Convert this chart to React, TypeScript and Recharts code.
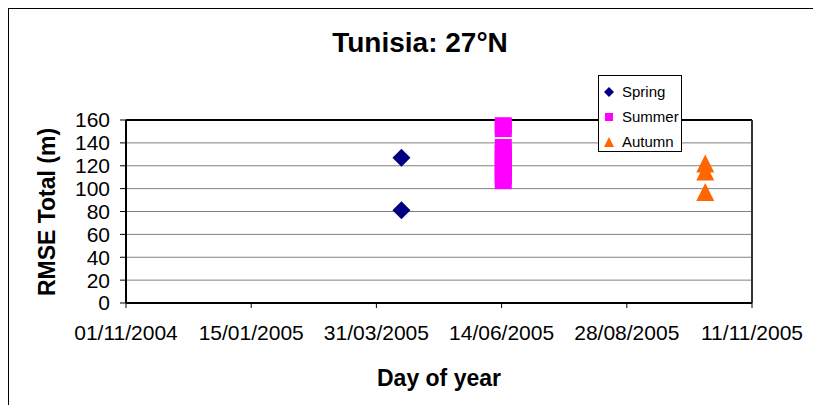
import React from "react";
import { ScatterChart, Scatter, XAxis, YAxis, CartesianGrid, ReferenceLine } from "recharts";

// dates are dd/mm/yyyy in the picture, stored here as ISO
const xTickDates = ["2004-11-01", "2005-01-15", "2005-03-31", "2005-06-14", "2005-08-28", "2005-11-11"];
const yTicks = [0, 20, 40, 60, 80, 100, 120, 140, 160];

const springDate = "2005-04-15";
const springValues = [127, 81];

const summerDate = "2005-06-15";
const summerValues = [155, 152.5, 136, 131, 126, 121, 116, 111, 107];

const autumnDate = "2005-10-14";
const autumnValues = [122, 115, 97];

const FONT = "'Liberation Sans', Arial, sans-serif";

const dayNum = (iso: string) => {
    const [y, m, d] = iso.split("-").map(Number);
    return Date.UTC(y, m - 1, d) / 86400000;
};

const fmtDay = (n: number) => {
    const dt = new Date(n * 86400000);
    const dd = String(dt.getUTCDate()).padStart(2, "0");
    const mm = String(dt.getUTCMonth() + 1).padStart(2, "0");
    return `${dd}/${mm}/${dt.getUTCFullYear()}`;
};

const xTicks = xTickDates.map(dayNum);
const springData = springValues.map(v => ({ t: dayNum(springDate), v }));
const summerData = summerValues.map(v => ({ t: dayNum(summerDate), v }));
const autumnData = autumnValues.map(v => ({ t: dayNum(autumnDate), v }));

const Diamond = (p: any) => {
    const { cx, cy } = p;
    const r = 9;
    return <polygon points={`${cx},${cy - r} ${cx + r},${cy} ${cx},${cy + r} ${cx - r},${cy}`} fill="#000080" />;
};

const Square = (p: any) => {
    const { cx, cy } = p;
    return <rect x={cx - 8.5} y={cy - 8.5} width={17} height={17} fill="#FF00FF" />;
};

const Triangle = (p: any) => {
    const { cx, cy } = p;
    const r = 9;
    return <polygon points={`${cx},${cy - r} ${cx + r},${cy + r} ${cx - r},${cy + r}`} fill="#FF6600" />;
};

const legendItems = [
    { name: "Spring", icon: <polygon points="5,0 10,5 5,10 0,5" fill="#000080" /> },
    { name: "Summer", icon: <rect x={1} y={1} width={8} height={8} fill="#FF00FF" /> },
    { name: "Autumn", icon: <polygon points="5,0 10,10 0,10" fill="#FF6600" /> },
];

export default function App() {
    return (
        <div style={{ position: "relative", width: 804, height: 396, overflow: "hidden", borderLeft: "1px solid #000", borderTop: "1px solid #000", fontFamily: FONT }}>
            <div style={{ position: "absolute", left: 411, top: 34, transform: "translate(-50%, -50%)", fontSize: 28, fontWeight: "bold", lineHeight: 1, whiteSpace: "nowrap" }}>
                Tunisia: 27°N
            </div>
            <div style={{ position: "absolute", left: 430, top: 369, transform: "translate(-50%, -50%)", fontSize: 23, fontWeight: "bold", lineHeight: 1, whiteSpace: "nowrap" }}>
                Day of year
            </div>
            <div style={{ position: "absolute", left: 38, top: 203, transform: "translate(-50%, -50%) rotate(-90deg)", fontSize: 23, fontWeight: "bold", lineHeight: 1, whiteSpace: "nowrap" }}>
                RMSE Total (m)
            </div>
            <ScatterChart width={804} height={396} margin={{ top: 111, right: 61, bottom: 42, left: 0 }}>
                <CartesianGrid vertical={false} stroke="#808080" />
                <XAxis
                    type="number"
                    dataKey="t"
                    domain={[xTicks[0], xTicks[xTicks.length - 1]]}
                    ticks={xTicks}
                    interval={0}
                    tickFormatter={fmtDay}
                    height={60}
                    tickSize={5}
                    tickMargin={17}
                    axisLine={{ stroke: "#000", strokeWidth: 2 }}
                    tickLine={{ stroke: "#000" }}
                    tick={{ fill: "#000", fontSize: 21, fontFamily: FONT }}
                />
                <YAxis
                    type="number"
                    dataKey="v"
                    domain={[0, 160]}
                    ticks={yTicks}
                    interval={0}
                    width={117}
                    tickSize={6}
                    tickMargin={10}
                    axisLine={{ stroke: "#000", strokeWidth: 2 }}
                    tickLine={{ stroke: "#000" }}
                    tick={{ fill: "#000", fontSize: 21, fontFamily: FONT }}
                />
                <ReferenceLine y={160} stroke="#000" strokeWidth={2} />
                <ReferenceLine x={xTicks[xTicks.length - 1]} stroke="#333" strokeWidth={2} />
                <Scatter name="Spring" data={springData} shape={Diamond} isAnimationActive={false} />
                <Scatter name="Summer" data={summerData} shape={Square} isAnimationActive={false} />
                <Scatter name="Autumn" data={autumnData} shape={Triangle} isAnimationActive={false} />
            </ScatterChart>
            <div style={{ position: "absolute", left: 589, top: 66, width: 84, height: 77, boxSizing: "border-box", border: "1px solid #000", background: "#fff", paddingTop: 3 }}>
                {legendItems.map(it => (
                    <div key={it.name} style={{ display: "flex", alignItems: "center", height: 25 }}>
                        <svg width={10} height={10} style={{ marginLeft: 5, marginRight: 8 }}>{it.icon}</svg>
                        <span style={{ fontSize: 15, lineHeight: 1 }}>{it.name}</span>
                    </div>
                ))}
            </div>
        </div>
    );
}
